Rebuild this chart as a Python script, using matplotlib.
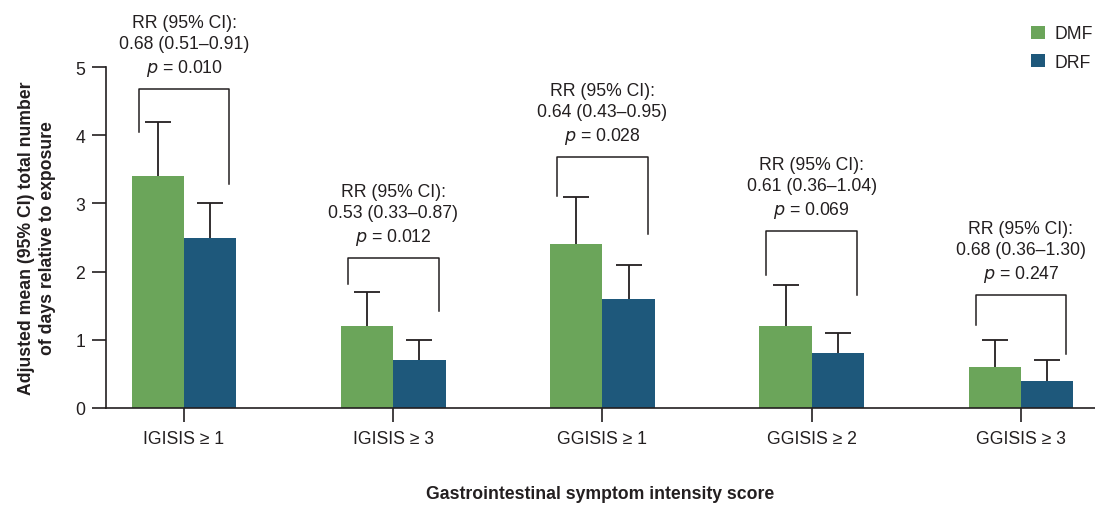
import numpy as np
import matplotlib.pyplot as plt

plt.rcParams['font.family'] = ['Liberation Sans', 'DejaVu Sans']

categories = ['IGISIS ≥ 1', 'IGISIS ≥ 3', 'GGISIS ≥ 1', 'GGISIS ≥ 2', 'GGISIS ≥ 3']
dmf = [3.4, 1.2, 2.4, 1.2, 0.6]
drf = [2.5, 0.7, 1.6, 0.8, 0.4]
dmf_upper = [4.2, 1.7, 3.1, 1.8, 1.0]
drf_upper = [3.0, 1.0, 2.1, 1.1, 0.7]
rr_text = ['0.68 (0.51–0.91)', '0.53 (0.33–0.87)', '0.64 (0.43–0.95)',
           '0.61 (0.36–1.04)', '0.68 (0.36–1.30)']
p_text = ['0.010', '0.012', '0.028', '0.069', '0.247']
bracket_top = [4.68, 2.20, 3.68, 2.60, 1.66]
bracket_left = [4.05, 1.82, 3.11, 1.95, 1.22]
bracket_right = [3.28, 1.42, 2.55, 1.66, 0.79]

GREEN, BLUE, INK = '#6BA55A', '#1E587B', '#231F20'
FS = 12.7

fig = plt.figure(figsize=(10.95, 5.06), dpi=100)
ax = fig.add_axes([0.0968, 0.1917, 0.9032, 0.6739])

x = np.arange(len(categories))
w = 0.25
cap = 0.062
for pos, vals, tops, col, lab in [(x - w / 2, dmf, dmf_upper, GREEN, 'DMF'),
                                  (x + w / 2, drf, drf_upper, BLUE, 'DRF')]:
    ax.bar(pos, vals, w, color=col, label=lab, zorder=2)
    ax.vlines(pos, vals, tops, color=INK, lw=1.3, zorder=1)
    ax.hlines(tops, pos - cap, pos + cap, color=INK, lw=1.3, zorder=1)

off = 0.217
for i in range(len(categories)):
    ax.plot([x[i] - off, x[i] - off, x[i] + off, x[i] + off],
            [bracket_left[i], bracket_top[i], bracket_top[i], bracket_right[i]],
            color=INK, lw=1.1, clip_on=False)
    ax.annotate(f'RR (95% CI):\n{rr_text[i]}\n$p$ = {p_text[i]}',
                xy=(x[i], bracket_top[i]), xytext=(0, 8), textcoords='offset points',
                ha='center', va='bottom', fontsize=FS, color=INK,
                linespacing=1.32, annotation_clip=False)

ax.set_xlim(-0.373, 4.354)
ax.set_ylim(0, 5)
ax.set_yticks(range(6))
ax.set_xticks(x)
ax.set_xticklabels(categories)
for s in ['top', 'right']:
    ax.spines[s].set_visible(False)
for s in ['left', 'bottom']:
    ax.spines[s].set_color(INK)
    ax.spines[s].set_linewidth(1.2)
ax.tick_params(colors=INK, labelsize=FS, length=10, width=1.2, pad=5)
ax.tick_params(axis='x', pad=6)

ax.set_ylabel('Adjusted mean (95% CI) total number\nof days relative to exposure',
              fontsize=FS, fontweight='bold', color=INK, labelpad=14, linespacing=1.25)
ax.set_xlabel('Gastrointestinal symptom intensity score', fontsize=FS,
              fontweight='bold', color=INK, labelpad=27)

leg = fig.legend(loc='upper left', bbox_to_anchor=(0.942, 0.948), frameon=False,
                 fontsize=FS, handlelength=0.75, handleheight=0.75, handletextpad=0.55,
                 labelspacing=0.65, borderaxespad=0, borderpad=0)
for t in leg.get_texts():
    t.set_color(INK)

fig.savefig('out.png', dpi=100)
